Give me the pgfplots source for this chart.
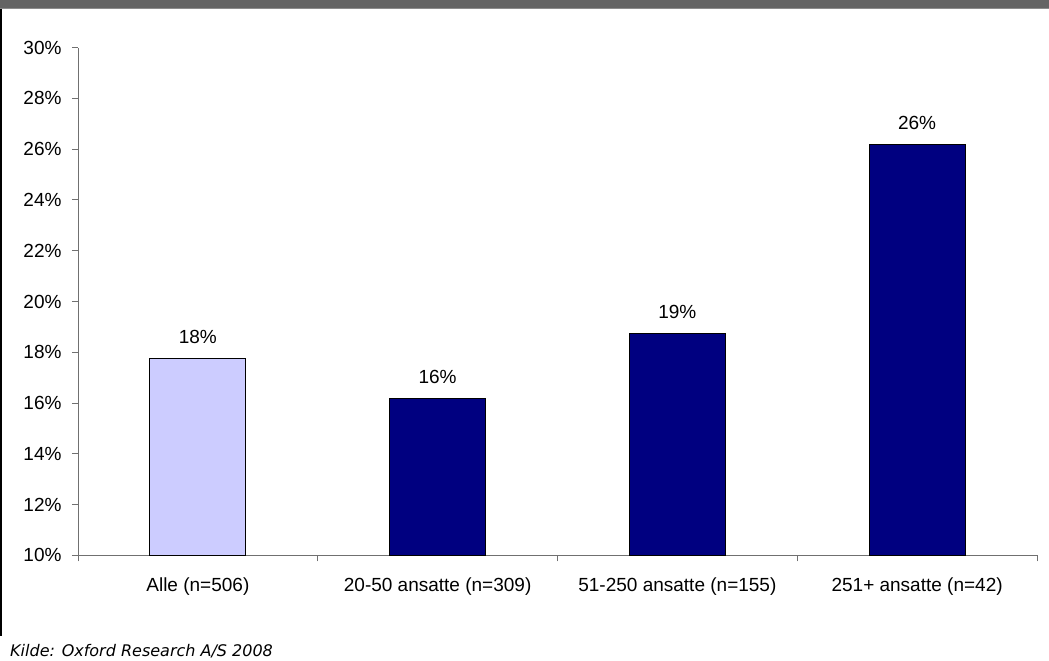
\documentclass[border=0pt]{standalone}
\usepackage{fontspec}
\setmainfont{Liberation Sans}
\newfontfamily\notefont{DejaVu Sans}
\usepackage{pgfplots}
\pgfplotsset{compat=1.18}
\definecolor{barlight}{HTML}{CCCCFF}
\definecolor{bardark}{HTML}{000080}
\definecolor{band}{HTML}{646464}
\definecolor{axisgray}{HTML}{707070}
\begin{document}
\fontsize{19bp}{22bp}\selectfont
\begin{tikzpicture}
% page frame: grey header band and black left rule
\path[use as bounding box] (0bp,0bp) rectangle (1049bp,661bp);
\fill[band] (0bp,652bp) rectangle (1049bp,661bp);
\draw[black!45, line width=1bp] (0bp,652bp) -- (1049bp,652bp);
\draw[black, line width=2bp] (1bp,652bp) -- (1bp,25bp);
\begin{axis}[
  at={(78bp,105.7bp)}, anchor=south west,
  scale only axis, width=959bp, height=507.6bp,
  xmin=-0.5, xmax=3.5, ymin=10, ymax=30,
  axis x line=bottom, axis y line=left,
  axis line style={-, axisgray, line width=1bp},
  /pgf/number format/assume math mode=true,
  ytick={10,12,...,30},
  yticklabel={\pgfmathprintnumber{\tick}\%},
  yticklabel style={xshift=-4bp},
  xtick={0,1,2,3},
  xticklabels={Alle (n=506), 20-50 ansatte (n=309), 51-250 ansatte (n=155), 251+ ansatte (n=42)},
  minor xtick={-0.5,0.5,1.5,2.5,3.5},
  tick align=outside,
  major tick length=6bp, minor tick length=6bp,
  major x tick style={draw=none},
  minor x tick style={axisgray, line width=1bp},
  y tick style={axisgray, line width=1bp},
  xticklabel style={yshift=-10bp},
  nodes near coords={\pgfmathprintnumber[fixed,precision=0]{\pgfplotspointmeta}\%},
  nodes near coords style={yshift=8bp, black},
  clip=false,
]
\addplot[ybar, bar shift=0pt, bar width=0.4, fill=barlight, draw=black, line width=1bp]
  coordinates {(0,17.77)};
\addplot[ybar, bar shift=0pt, bar width=0.4, fill=bardark, draw=black, line width=1bp]
  coordinates {(1,16.17) (2,18.73) (3,26.17)};
\end{axis}
\node[anchor=base west, inner sep=0pt, font=\notefont\itshape\fontsize{16bp}{19bp}\selectfont]
  at (10bp,4.3bp) {Kilde: Oxford Research A/S 2008};
\end{tikzpicture}
\end{document}
